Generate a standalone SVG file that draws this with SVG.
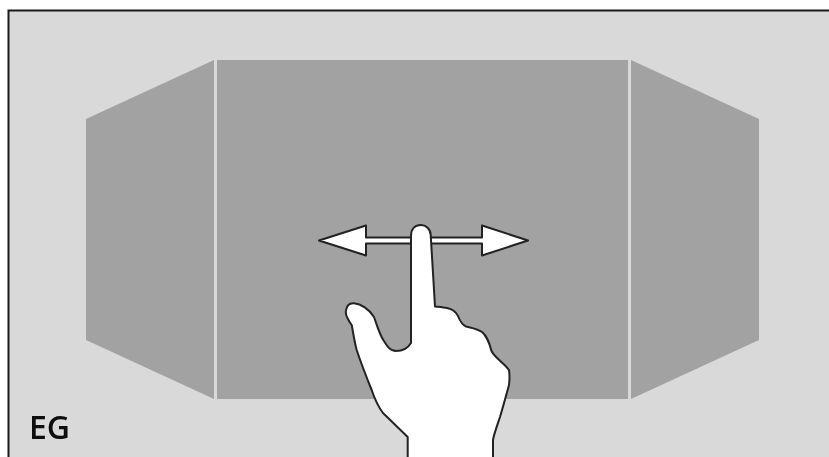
<svg xmlns="http://www.w3.org/2000/svg" width="829" height="457" viewBox="0 0 829 457">
<defs><filter id="b" x="-5%" y="-5%" width="110%" height="110%"><feGaussianBlur stdDeviation="0.55"/></filter></defs>
<style>
.panel{fill:#a2a2a2}
.outline{fill:#fff;stroke:#222;stroke-width:2;stroke-linejoin:round}
.label{font-family:"Open Sans","Noto Sans",sans-serif;font-weight:600;font-size:32px;fill:#0d0d0d}
</style>
<rect width="829" height="457" fill="#fff"/>
<g id="frame"><rect x="8.500" y="10.500" width="821" height="447" fill="#d9d9d9"/><path d="M829 10.500H8.500V457" fill="none" stroke="#1a1a1a" stroke-width="2"/></g>
<g id="panels" filter="url(#b)">
<polygon id="panel-left" class="panel" points="86,119 214,60 214,399 86,340"/>
<rect id="panel-centre" class="panel" x="217" y="60" width="411" height="339"/>
<polygon id="panel-right" class="panel" points="631,60 759,119 759,340 631,399"/>
</g>
<g id="connectors" filter="url(#b)">
<path id="arrow" class="outline" d="M319 240.500L366 225.500V237.500H482V225.500L528 240.500L482 255.500V243.500H366V255.500Z"/>
</g>
<g id="hand" filter="url(#b)">
<path class="outline" d="M407.700 457V437L383 413C377 405 374 397 371.700 390C366 376 361 363 356.700 350C354 340 353 331 351.700 325C348 320 345.500 316 345.800 311.500C346.500 305 350 303 354 303.300C361 304 369 309 374 317C377 325 379 333 383.300 340C387 346 390 351 396 351C402 351 408 348 411 343L411 236C411 229 415 225 420.700 225C426 225 430.500 229 430.700 235L435 306.500C440 307 444 307.300 447 308C452 309 456 312 458 316C460 321 462 325 466 326.500C472 328 478 329 482 332C487 336 489 342 491.500 351C495 358 505 364 509 370C510 376 509.500 380 509 385C506 396 503 407 500 417C497 426 494 434 493 440V457"/>
</g>
<g id="label" filter="url(#b)"><text class="label" x="29" y="439">EG</text></g>
</svg>
